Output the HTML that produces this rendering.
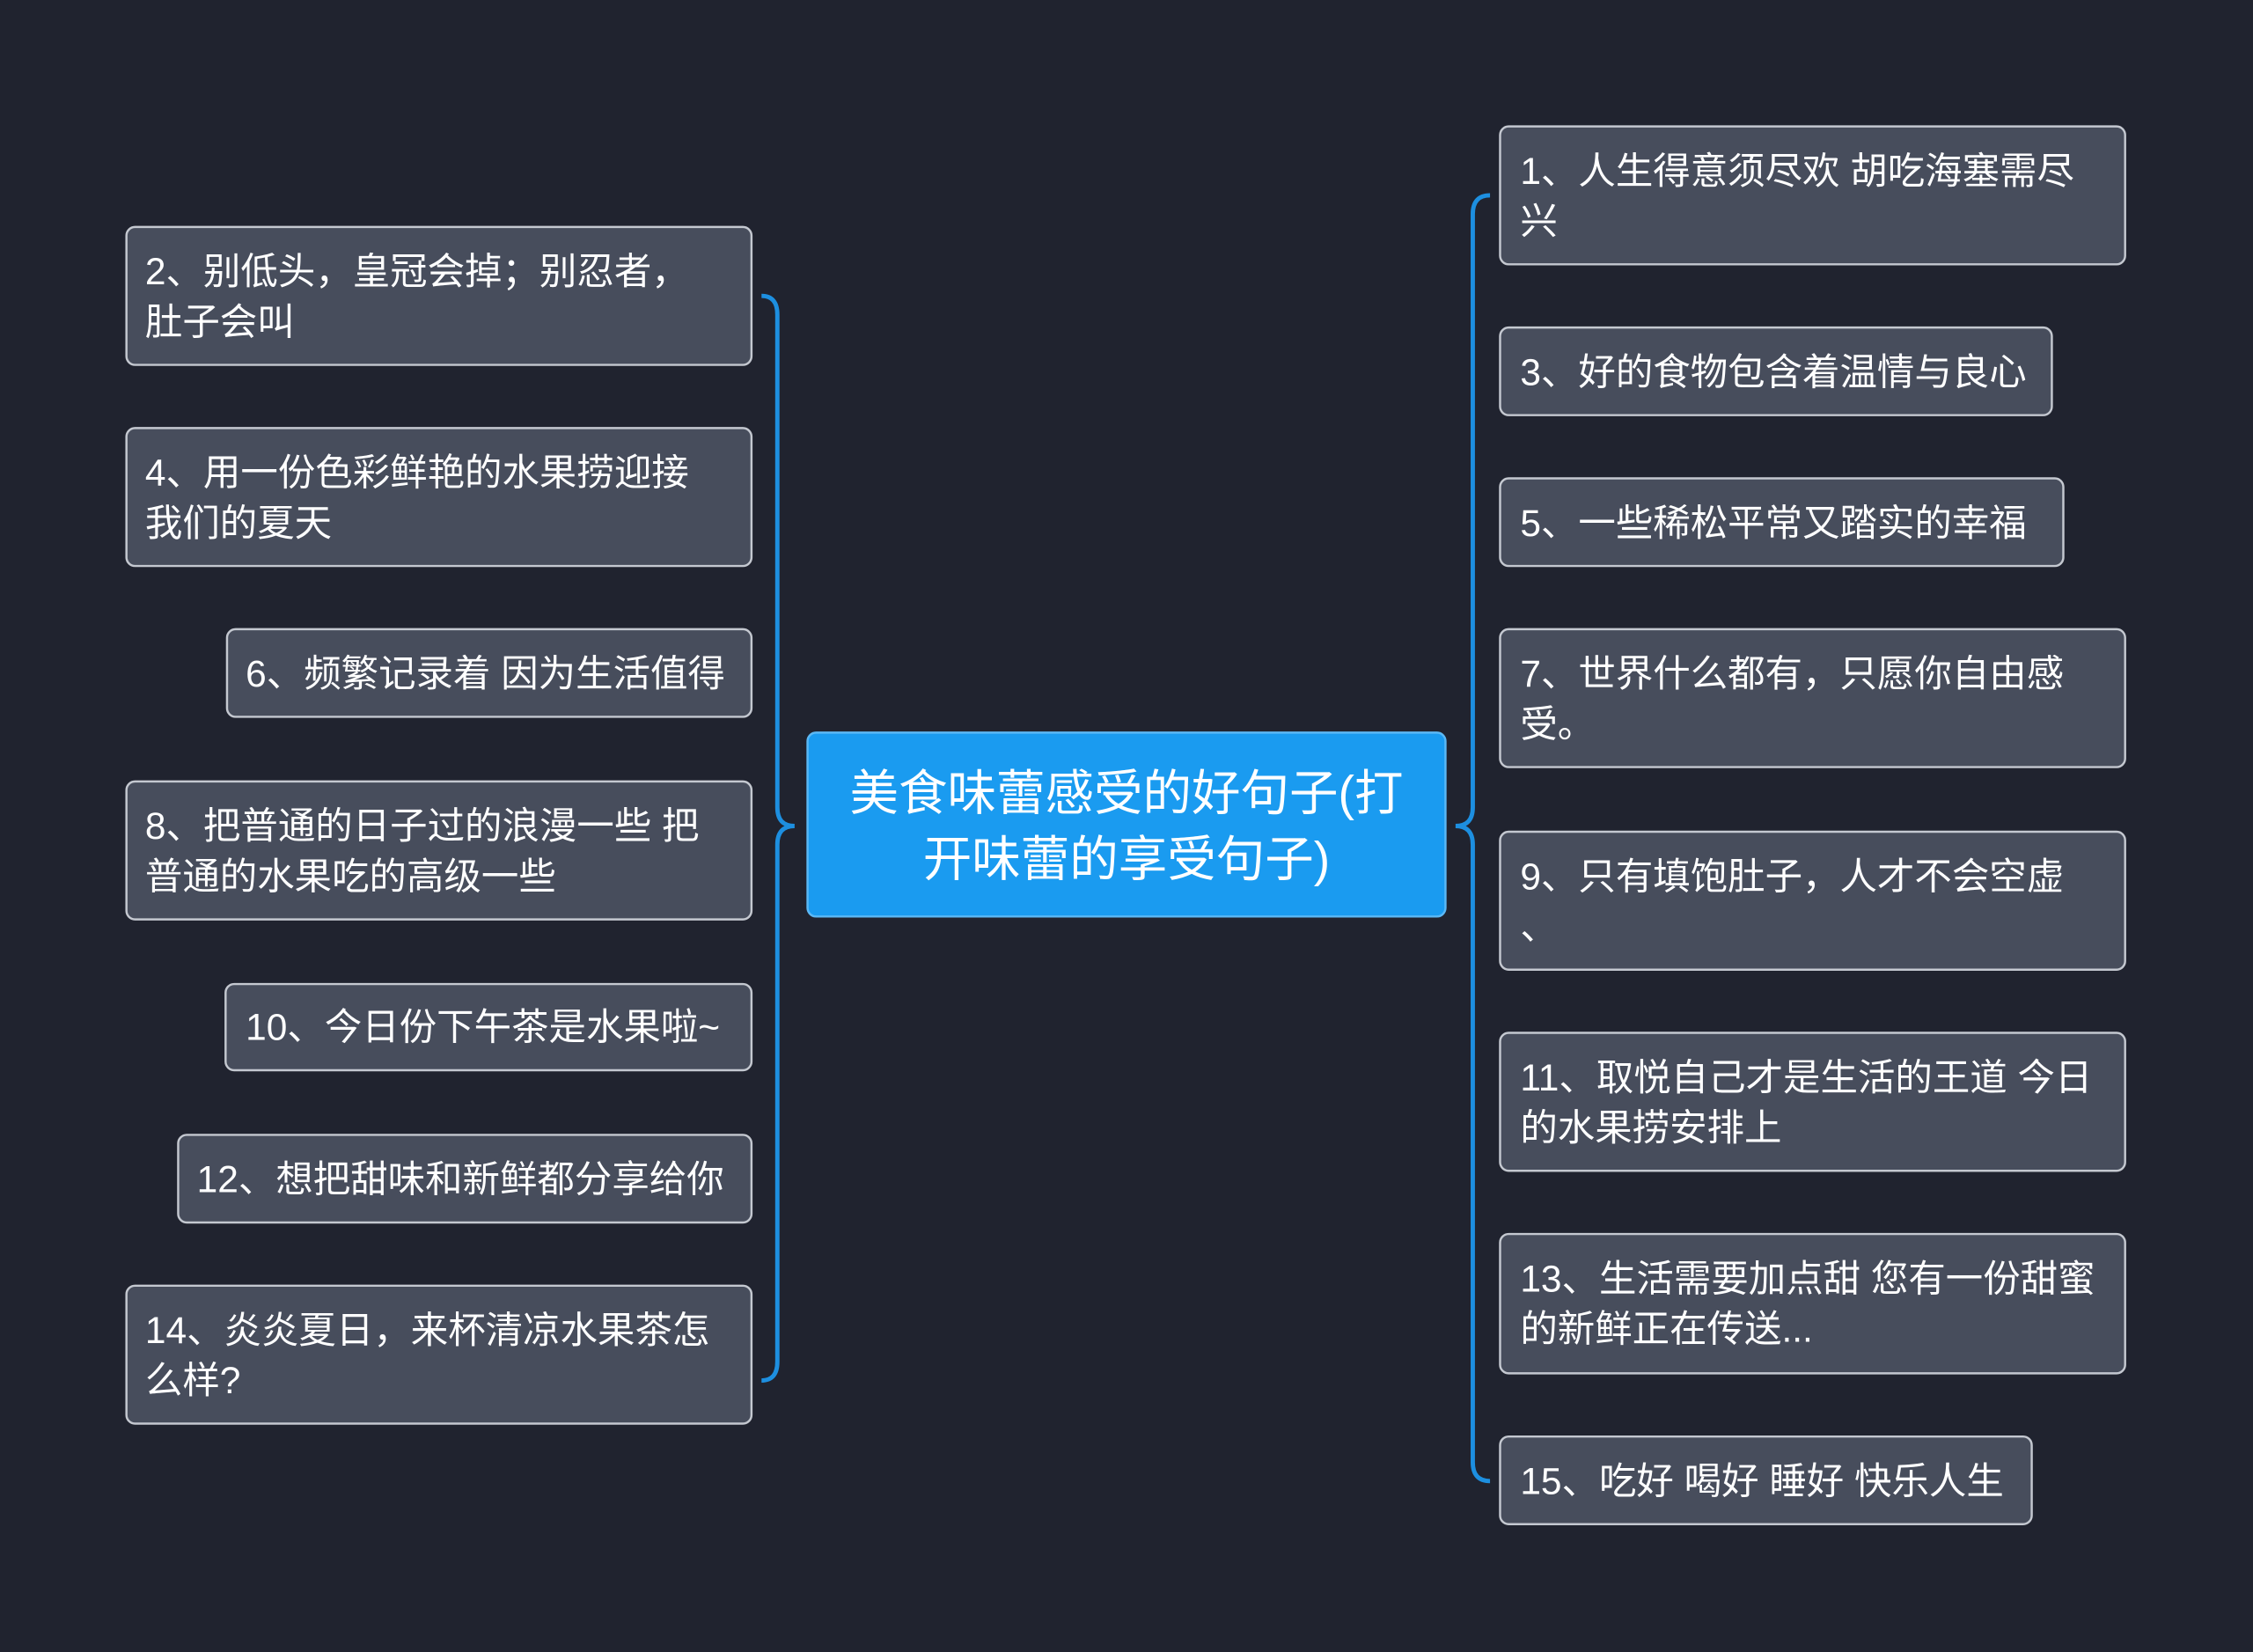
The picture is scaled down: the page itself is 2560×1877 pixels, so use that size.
<!DOCTYPE html>
<html><head><meta charset="utf-8">
<style>
html,body{margin:0;padding:0;background:#20232f;}
svg{display:block;}
text{font-family:"Liberation Sans","Noto Sans CJK SC",sans-serif;}
</style></head>
<body>
<svg width="2560" height="1877" viewBox="0 0 1568 1150" preserveAspectRatio="none" xmlns="http://www.w3.org/2000/svg">
<rect width="1568" height="1150" fill="#20232f"/>
<g fill="none" stroke="#1d8fe0" stroke-width="3">
<path d="M530,206 Q541,206 541,219 L541,562 Q541,575 553,575 Q541,575 541,588 L541,948 Q541,961 530,961"/>
<path d="M1037,136 Q1025,136 1025,149 L1025,562 Q1025,575 1013,575 Q1025,575 1025,588 L1025,1018 Q1025,1031 1037,1031"/>
</g>
<g fill="#474d5c" stroke="#c4c8d0" stroke-width="1.5">
<rect x="88" y="158" width="435" height="96" rx="6"/>
<rect x="88" y="298" width="435" height="96" rx="6"/>
<rect x="158" y="438" width="365" height="61" rx="6"/>
<rect x="88" y="544" width="435" height="96" rx="6"/>
<rect x="157" y="685" width="366" height="60" rx="6"/>
<rect x="124" y="790" width="399" height="61" rx="6"/>
<rect x="88" y="895" width="435" height="96" rx="6"/>
<rect x="1044" y="88" width="435" height="96" rx="6"/>
<rect x="1044" y="228" width="384" height="61" rx="6"/>
<rect x="1044" y="333" width="392" height="61" rx="6"/>
<rect x="1044" y="438" width="435" height="96" rx="6"/>
<rect x="1044" y="579" width="435" height="96" rx="6"/>
<rect x="1044" y="719" width="435" height="96" rx="6"/>
<rect x="1044" y="859" width="435" height="97" rx="6"/>
<rect x="1044" y="1000" width="370" height="61" rx="6"/>
</g>
<rect x="562" y="510" width="444" height="128" rx="6" fill="#1a9bf0" stroke="#5bb8f5" stroke-width="1.5"/>
<g fill="#ffffff" font-size="34" text-anchor="middle">
<text x="784" y="564">美食味蕾感受的好句子(打</text>
<text x="784" y="610">开味蕾的享受句子)</text>
</g>
<g fill="#ffffff" font-size="26">
<text x="101" y="198">2、别低头，皇冠会掉；别忍者，</text>
<text x="101" y="233">肚子会叫</text>
<text x="101" y="338">4、用一份色彩鲜艳的水果捞迎接</text>
<text x="101" y="373">我们的夏天</text>
<text x="171" y="478">6、频繁记录着 因为生活值得</text>
<text x="101" y="584">8、把普通的日子过的浪漫一些 把</text>
<text x="101" y="619">普通的水果吃的高级一些</text>
<text x="171" y="724">10、今日份下午茶是水果啦~</text>
<text x="137" y="830">12、想把甜味和新鲜都分享给你</text>
<text x="101" y="935">14、炎炎夏日，来杯清凉水果茶怎</text>
<text x="101" y="970">么样?</text>
<text x="1058" y="128">1、人生得意须尽欢 胡吃海塞需尽</text>
<text x="1058" y="163">兴</text>
<text x="1058" y="268">3、好的食物包含着温情与良心</text>
<text x="1058" y="373">5、一些稀松平常又踏实的幸福</text>
<text x="1058" y="478">7、世界什么都有，只愿你自由感</text>
<text x="1058" y="513">受。</text>
<text x="1058" y="619">9、只有填饱肚子，人才不会空虚</text>
<text x="1058" y="654">、</text>
<text x="1058" y="759">11、取悦自己才是生活的王道 今日</text>
<text x="1058" y="794">的水果捞安排上</text>
<text x="1058" y="899">13、生活需要加点甜 您有一份甜蜜</text>
<text x="1058" y="934">的新鲜正在传送...</text>
<text x="1058" y="1040">15、吃好 喝好 睡好 快乐人生</text>
</g>
</svg>
</body></html>
